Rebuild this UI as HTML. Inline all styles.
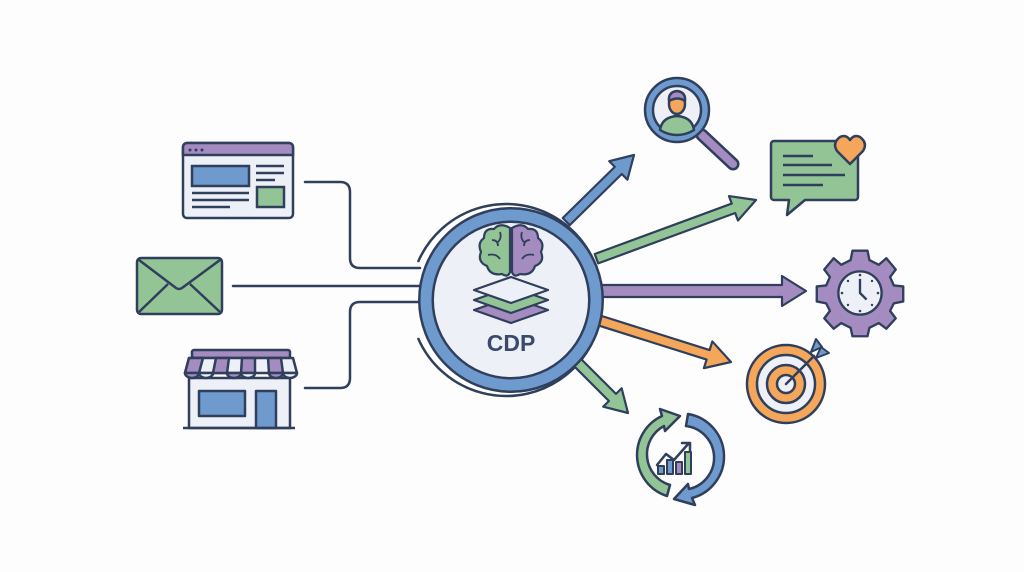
<!DOCTYPE html>
<html><head><meta charset="utf-8"><style>
html,body{margin:0;padding:0;background:#fff;}
svg{display:block;}
</style></head><body>
<svg width="1024" height="572" viewBox="0 0 1024 572" xmlns="http://www.w3.org/2000/svg">
<rect width="1024" height="572" fill="#fdfdfd"/>
<!-- thin outer ring with gap on left -->
<circle cx="511" cy="300" r="96" fill="#fff" stroke="none"/>
<path d="M418 262 A96 96 0 1 1 418 338" fill="none" stroke="#2f3f5c" stroke-width="2.5"/>
<g fill="none" stroke="#2f3f5c" stroke-width="2.5" stroke-linecap="round">
<path d="M305 182 H340 Q350 182 350 192 V258 Q350 268 360 268 H420"/>
<path d="M233 286 H420"/>
<path d="M305 388 H340 Q350 388 350 378 V312 Q350 302 360 302 H420"/>
</g>
<!-- browser -->
<g stroke="#2f3f5c" stroke-width="2.5">
<rect x="183" y="143" width="110" height="75" rx="4" fill="#eef0f7"/>
<path d="M183 155 V147 a4 4 0 0 1 4 -4 H289 a4 4 0 0 1 4 4 V155 Z" fill="#a48bc0"/>
<rect x="192" y="166" width="57" height="20" fill="#6e9acd"/>
<rect x="257" y="187" width="27" height="20" fill="#92c496"/>
<path d="M256 166 H284 M256 173 H284 M256 180 H275 M192 193 H249 M192 200 H249 M192 207 H230" fill="none"/>
</g>
<circle cx="190" cy="150" r="1.5" fill="#2f3f5c"/><circle cx="196" cy="150" r="1.5" fill="#2f3f5c"/><circle cx="202" cy="150" r="1.5" fill="#2f3f5c"/>
<!-- envelope -->
<g stroke="#2f3f5c" stroke-width="2.5" stroke-linejoin="round">
<rect x="137" y="258" width="85" height="56" rx="4" fill="#92c496"/>
<path d="M139 260 L176 288 Q179 290 182 288 L220 260 M139 312 L168 284 M220 312 L190 284" fill="none"/>
</g>
<!-- store -->
<g stroke="#2f3f5c" stroke-width="2.5" stroke-linejoin="round">
<rect x="189" y="378" width="101" height="50" fill="#eef0f7"/>
<rect x="199" y="391" width="46" height="25" fill="#6e9acd"/>
<rect x="256" y="391" width="20" height="37" fill="#6e9acd"/>
<path d="M183 428 H295" fill="none"/>
<rect x="192" y="350" width="98" height="8" rx="2" fill="#a48bc0"/>
<path d="M189 358 H293 L297 373 H185 Z" fill="#eef0f7"/>
<path d="M189 358 L185 373 H199 L203 358 Z M216 358 L213 373 H227 L229 358 Z M242 358 L241 373 H255 L255 358 Z M268 358 L269 373 H283 L281 358 Z" fill="#a48bc0"/>
<path d="M185 373 a7 5 0 0 0 14 0 Z M227 373 a7 5 0 0 0 14 0 Z M269 373 a7 5 0 0 0 14 0 Z" fill="#a48bc0"/>
<path d="M199 373 a7 5 0 0 0 14 0 Z M241 373 a7 5 0 0 0 14 0 Z M283 373 a7 5 0 0 0 14 0 Z" fill="#eef0f7"/>
</g>
<!-- arrows -->
<g stroke="#2f3f5c" stroke-width="2.2" stroke-linejoin="round">
<polygon transform="translate(634,155) rotate(-44.5)" points="0,0 -22,-13 -22,-5 -95,-5 -95,5 -22,5 -22,13" fill="#6e9acd"/>
<polygon transform="translate(756,200) rotate(-20.2)" points="0,0 -24,-13 -24,-5 -170,-5 -170,5 -24,5 -24,13" fill="#92c496"/>
<polygon transform="translate(806,291) rotate(0)" points="0,0 -24,-15 -24,-6 -205,-6 -205,6 -24,6 -24,15" fill="#a48bc0"/>
<polygon transform="translate(731,362) rotate(17.5)" points="0,0 -24,-14 -24,-5 -140,-5 -140,5 -24,5 -24,14" fill="#f4a65a"/>
<polygon transform="translate(628,413) rotate(45)" points="0,0 -22,-13 -22,-5 -85,-5 -85,5 -22,5 -22,13" fill="#92c496"/>
</g>
<!-- thick ring -->
<circle cx="511" cy="300" r="85" fill="#eef0f7" stroke="#2f3f5c" stroke-width="16"/>
<circle cx="511" cy="300" r="85" fill="none" stroke="#6e9acd" stroke-width="11"/>
<!-- brain -->
<g stroke="#2f3f5c" stroke-width="2.2" stroke-linejoin="round">
<path d="M510 228 Q500 222 494 229 Q484 228 484 238 Q477 243 481 252 Q477 262 487 266 Q490 276 502 274 Q508 278 510 272 Z" fill="#92c496"/>
<path d="M512 228 Q522 222 528 229 Q538 228 538 238 Q545 243 541 252 Q545 262 535 266 Q532 276 520 274 Q514 278 512 272 Z" fill="#a48bc0"/>
<path d="M492 240 q6 0 6 6 M488 255 q8 -2 12 4 M500 232 q2 6 -2 10 M530 240 q-6 0 -6 6 M534 255 q-8 -2 -12 4 M522 232 q-2 6 2 10" fill="none" stroke-width="1.8"/>
<path d="M474 310 L511 297 L548 310 L511 323 Z" fill="#a48bc0"/>
<path d="M474 300 L511 287 L548 300 L511 313 Z" fill="#92c496"/>
<path d="M474 290 L511 277 L548 290 L511 303 Z" fill="#eef0f7"/>
</g>
<text x="511" y="351" text-anchor="middle" font-family="Liberation Sans, sans-serif" font-weight="bold" font-size="23" fill="#3b4a6b">CDP</text>
<!-- magnifier -->
<g stroke="#2f3f5c" stroke-width="2.5" stroke-linejoin="round" stroke-linecap="round">
<line x1="702" y1="135" x2="733" y2="164" stroke="#2f3f5c" stroke-width="13"/>
<line x1="702" y1="135" x2="733" y2="164" stroke="#a48bc0" stroke-width="8"/>
<circle cx="677" cy="110" r="32" fill="#6e9acd"/>
<circle cx="677" cy="110" r="24" fill="#eef0f7"/>
<path d="M660 130 Q662 117 677 116 Q692 117 694 130 Q686 135 677 135 Q668 135 660 130 Z" fill="#92c496"/>
<ellipse cx="677" cy="104" rx="8" ry="10" fill="#f4a65a"/>
<path d="M669 101 Q668 92 677 91 Q686 92 685 101 Q678 96 669 101 Z" fill="#a48bc0"/>
</g>
<!-- chat -->
<g stroke="#2f3f5c" stroke-width="2.5" stroke-linejoin="round">
<path d="M774 141 H855 a3 3 0 0 1 3 3 V197 a3 3 0 0 1 -3 3 H805 L787 215 L789 200 H774 a3 3 0 0 1 -3 -3 V144 a3 3 0 0 1 3 -3 Z" fill="#92c496"/>
<path d="M783 156 H813 M783 165 H832 M783 175 H845 M783 185 H823" fill="none"/>
<path d="M850 164 L837 151 Q832 143 840 137 Q846 134 850 140 Q854 134 860 137 Q868 143 863 151 Z" fill="#f4a65a"/>
</g>
<!-- gear -->
<g stroke="#2f3f5c" stroke-width="2.5" stroke-linejoin="round" transform="translate(860,293) scale(0.94) translate(-860,-293)">
<path fill="#a48bc0" d="M852 248 H868 L870 258 L880 263 L888 256 L898 268 L892 276 L896 285 L906 286 V302 L896 304 L892 312 L898 320 L888 331 L880 325 L870 330 L868 339 H852 L850 330 L840 325 L832 331 L822 320 L828 312 L824 304 L814 302 V286 L824 285 L828 276 L822 268 L832 256 L840 263 L850 258 Z"/>
<circle cx="860" cy="293" r="23" fill="#eef0f7"/>
<path d="M860 278 V293 L867 300" fill="none"/>
</g>
<g fill="#2f3f5c"><circle cx="860" cy="275" r="1.3"/><circle cx="860" cy="311" r="1.3"/><circle cx="842" cy="293" r="1.3"/><circle cx="878" cy="293" r="1.3"/><circle cx="848" cy="281" r="1.2"/><circle cx="872" cy="281" r="1.2"/><circle cx="848" cy="305" r="1.2"/><circle cx="872" cy="305" r="1.2"/></g>
<!-- target -->
<g stroke="#2f3f5c" stroke-width="2.5">
<circle cx="786" cy="384" r="39" fill="#f4a65a"/>
<circle cx="786" cy="384" r="29" fill="#eef0f7"/>
<circle cx="786" cy="384" r="19" fill="#f4a65a"/>
<circle cx="786" cy="384" r="9" fill="#eef0f7"/>
<line x1="786" y1="384" x2="814" y2="356" stroke-linecap="round"/>
<path d="M811 352 L816 339 L822 347 Z M816 358 L829 353 L821 347 Z" fill="#6e9acd" stroke-linejoin="round" stroke-width="2"/>
</g>
<!-- cycle -->
<g stroke="#2f3f5c" stroke-width="2.5" stroke-linejoin="round">
<path d="M667 496 A43 43 0 0 1 662 416 L660 409 L680 416 L665 431 L664 426 A32 32 0 0 0 670 485 Z" fill="#92c496"/>
<path d="M688 414 A43 43 0 0 1 692 498 L695 505 L674 499 L688 484 L689 489 A32 32 0 0 0 686 426 Z" fill="#6e9acd"/>
<path d="M657 465 L666 454 L674 460 L689 443 M682 443 H690 V451" fill="none" stroke-linecap="round"/>
<rect x="658" y="466" width="6" height="8" fill="#6e9acd" stroke-width="2"/>
<rect x="667" y="460" width="6" height="14" fill="#6e9acd" stroke-width="2"/>
<rect x="676" y="462" width="6" height="12" fill="#a48bc0" stroke-width="2"/>
<rect x="685" y="452" width="6" height="22" fill="#92c496" stroke-width="2"/>
</g>
</svg>
</body></html>
